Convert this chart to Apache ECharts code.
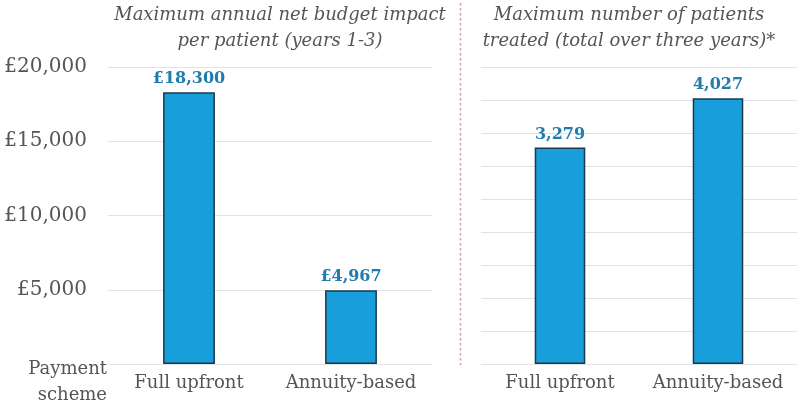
<!DOCTYPE html>
<html>
<head>
<meta charset="utf-8">
<script src="https://cdn.jsdelivr.net/npm/echarts@6/dist/echarts.min.js"></script>
<style>html,body{margin:0;padding:0;background:#fff;}#c{width:800px;height:403px;}</style>
</head>
<body>
<div id="c"></div>
<script>
var categories = ['Full upfront', 'Annuity-based'];
var budgetImpact = [18300, 4967];
var patientsTreated = [3279, 4027];
var budgetTicks = {min: 0, max: 20000, interval: 5000};
var patientTicks = {min: 0, max: 4500, interval: 500};
var titleLeft = 'Maximum annual net budget impact\nper patient (years 1-3)';
var titleRight = 'Maximum number of patients\ntreated (total over three years)*';
var axisNote = 'Payment\nscheme';

var serif = '"DejaVu Serif", "Liberation Serif", serif';
var gray = '#555555';
var barColor = '#189fdb';
var barBorder = '#1d3a4c';
var labelBlue = '#1f7cad';

function fmtMoney(v){ return '£' + v.toLocaleString('en-GB'); }
function fmtNum(v){ return v.toLocaleString('en-GB'); }

var chart = echarts.init(document.getElementById('c'), null, {renderer: 'canvas'});
var catAxisCommon = {
  type: 'category',
  axisLine: {show: false},
  axisTick: {show: false},
  axisLabel: {color: gray, fontFamily: serif, fontSize: 18, margin: 10, interval: 0}
};
var option = {
  animation: false,
  backgroundColor: '#ffffff',
  title: [
    {text: titleLeft, left: 275, top: -3, textAlign: 'center',
     textStyle: {fontFamily: serif, fontStyle: 'italic', fontWeight: 'normal', fontSize: 18, color: gray, lineHeight: 26}},
    {text: titleRight, left: 624, top: -3, textAlign: 'center',
     textStyle: {fontFamily: serif, fontStyle: 'italic', fontWeight: 'normal', fontSize: 18, color: gray, lineHeight: 26}}
  ],
  grid: [
    {left: 108, right: 368, top: 67, bottom: 39},
    {left: 481, right: 3, top: 67, bottom: 39}
  ],
  xAxis: [
    Object.assign({gridIndex: 0, data: categories}, catAxisCommon),
    Object.assign({gridIndex: 1, data: categories}, catAxisCommon)
  ],
  yAxis: [
    {type: 'value', gridIndex: 0, min: budgetTicks.min, max: budgetTicks.max, interval: budgetTicks.interval,
     axisLine: {show: false}, axisTick: {show: false},
     splitLine: {lineStyle: {color: '#e2e2e2', width: 1}},
     axisLabel: {color: gray, fontFamily: serif, fontSize: 20, margin: 21,
       formatter: function(v){ return v === 0 ? '' : fmtMoney(v); }}},
    {type: 'value', gridIndex: 1, min: patientTicks.min, max: patientTicks.max, interval: patientTicks.interval,
     axisLine: {show: false}, axisTick: {show: false},
     splitLine: {lineStyle: {color: '#e2e2e2', width: 1}},
     axisLabel: {show: false}}
  ],
  series: [
    {type: 'bar', xAxisIndex: 0, yAxisIndex: 0, data: budgetImpact, barWidth: '32%',
     itemStyle: {color: barColor, borderColor: barBorder, borderWidth: 1.5},
     label: {show: true, position: 'top', distance: 5, color: labelBlue, fontFamily: serif, fontWeight: 'bold', fontSize: 16,
       formatter: function(p){ return fmtMoney(p.value); }}},
    {type: 'bar', xAxisIndex: 1, yAxisIndex: 1, data: patientsTreated, barWidth: '32%',
     itemStyle: {color: barColor, borderColor: barBorder, borderWidth: 1.5},
     label: {show: true, position: 'top', distance: 5, color: labelBlue, fontFamily: serif, fontWeight: 'bold', fontSize: 16,
       formatter: function(p){ return fmtNum(p.value); }}}
  ],
  graphic: [
    {type: 'line', shape: {x1: 460.5, y1: 3, x2: 460.5, y2: 365},
     style: {stroke: '#c9a2aa', lineWidth: 1.5, lineDash: [2.5, 2.5]}},
    {type: 'text', right: 800 - 107, top: 356,
     style: {text: axisNote, fill: gray, font: '18px ' + serif, textAlign: 'right', lineHeight: 26}}
  ]
};
chart.setOption(option);
</script>
</body>
</html>
